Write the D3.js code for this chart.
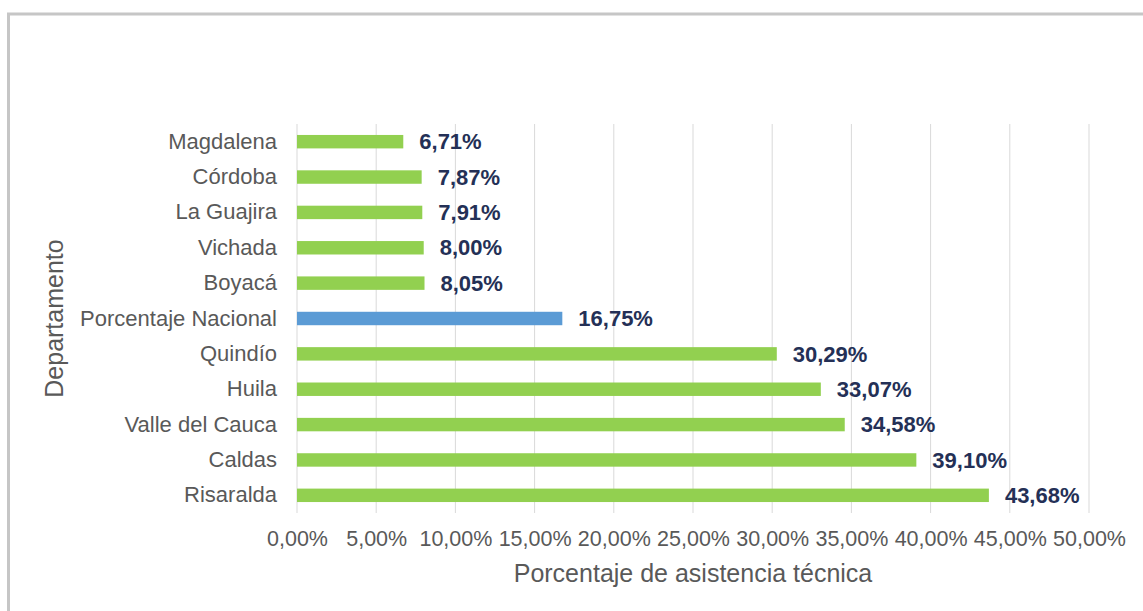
<!DOCTYPE html>
<html>
<head>
<meta charset="utf-8">
<script src="https://cdn.jsdelivr.net/npm/d3@7"></script>
<style>
    body { margin: 0; background: #fff; }
    svg text { font-family: "Liberation Sans", Arial, sans-serif; }
</style>
</head>
<body>
<svg id="chart" width="1143" height="611"></svg>
<script>
// departamentos, de arriba hacia abajo
let departamentos = ["Magdalena", "Córdoba", "La Guajira", "Vichada", "Boyacá",
    "Porcentaje Nacional", "Quindío", "Huila", "Valle del Cauca", "Caldas", "Risaralda"];
let porcentajes = [6.71, 7.87, 7.91, 8.00, 8.05, 16.75, 30.29, 33.07, 34.58, 39.10, 43.68];
let ticks = [0, 5, 10, 15, 20, 25, 30, 35, 40, 45, 50];

let svg = d3.select("#chart");

// marco gris
svg.append("rect")
    .attr("x", 8.5).attr("y", 14)
    .attr("width", 1160).attr("height", 640)
    .attr("fill", "none")
    .attr("stroke", "#c6c6c6")
    .attr("stroke-width", 3);

let plotLeft = 297, plotRight = 1089, plotTop = 124, plotBottom = 513;

let xScale = d3.scaleLinear().domain([0, 50]).range([plotLeft, plotRight]);
let yScale = d3.scaleBand().domain(departamentos).range([plotTop, plotBottom]).paddingInner(0.62).paddingOuter(0.31);

let fmt = v => v.toFixed(2).replace(".", ",") + "%";

// rejilla
svg.append("g").selectAll("line").data(ticks).enter()
    .append("line")
    .attr("x1", d => xScale(d)).attr("x2", d => xScale(d))
    .attr("y1", plotTop).attr("y2", plotBottom)
    .attr("stroke", "#d9d9d9")
    .attr("stroke-width", 1);

// eje x
let xAxis = d3.axisBottom(xScale).tickValues(ticks).tickFormat(d => fmt(d)).tickSize(0).tickPadding(0);
let gX = svg.append("g").attr("transform", "translate(0,546)").call(xAxis);
gX.select(".domain").remove();
gX.selectAll("text").attr("font-size", 21.5).attr("fill", "#595959").attr("dy", "0");

// eje y
let yAxis = d3.axisLeft(yScale).tickSize(0).tickPadding(20);
let gY = svg.append("g").attr("transform", "translate(" + plotLeft + ",0)").call(yAxis);
gY.select(".domain").remove();
gY.selectAll("text").attr("font-size", 22).attr("fill", "#595959");

// barras
svg.append("g").selectAll("rect").data(porcentajes).enter()
    .append("rect")
    .attr("x", xScale(0))
    .attr("y", (d, i) => yScale(departamentos[i]))
    .attr("width", d => xScale(d) - xScale(0))
    .attr("height", yScale.bandwidth())
    .attr("fill", (d, i) => departamentos[i] == "Porcentaje Nacional" ? "#5b9bd5" : "#92d050");

// etiquetas
svg.append("g").selectAll("text").data(porcentajes).enter()
    .append("text")
    .attr("x", d => xScale(d) + 16)
    .attr("y", (d, i) => yScale(departamentos[i]) + yScale.bandwidth() / 2)
    .attr("dy", "0.35em")
    .attr("font-size", 22)
    .attr("font-weight", "bold")
    .attr("fill", "#243056")
    .text(d => fmt(d));

// títulos de ejes
svg.append("text")
    .attr("x", (plotLeft + plotRight) / 2).attr("y", 582)
    .attr("text-anchor", "middle")
    .attr("font-size", 25)
    .attr("fill", "#595959")
    .text("Porcentaje de asistencia técnica");

svg.append("text")
    .attr("transform", "translate(63," + ((plotTop + plotBottom) / 2) + ") rotate(-90)")
    .attr("text-anchor", "middle")
    .attr("font-size", 25)
    .attr("fill", "#595959")
    .text("Departamento");
</script>
</body>
</html>
